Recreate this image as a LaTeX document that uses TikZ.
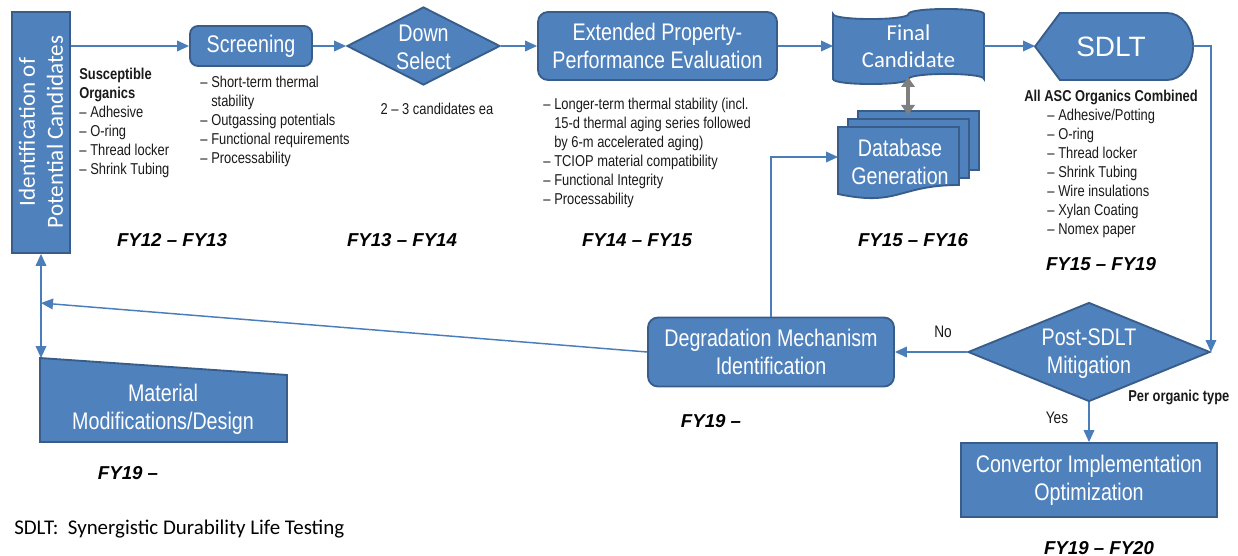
\documentclass[tikz,border=0pt]{standalone}
\usepackage{fontspec}
\setmainfont{Liberation Sans}
\newfontfamily\nar[FakeStretch=0.82]{Liberation Sans}
\newfontfamily\calf{Carlito}
\usetikzlibrary{shapes.geometric,arrows.meta}
\definecolor{boxfill}{HTML}{4F81BD}
\definecolor{boxline}{HTML}{385D8A}
\definecolor{arrline}{HTML}{4A7EBB}
\definecolor{gry}{HTML}{7F7F7F}
\definecolor{txt}{HTML}{1A1A1A}
\newcommand\lidash{\makebox[8.25pt][l]{–}}
\newcommand\liind{\hspace*{8.25pt}}
\tikzset{
  shp/.style={draw=boxline, fill=boxfill, line width=1.4pt},
  lbl/.style={text=white, font=\nar\fontsize{18}{21}\selectfont, align=center, inner sep=0pt},
  plain/.style={inner sep=0pt, outer sep=0pt},
  body/.style={text=txt, font=\nar\fontsize{11.8}{14.25}\selectfont, align=left, inner sep=0pt, anchor=north west},
  bodyb/.style={text=txt, font=\nar\bfseries\fontsize{11.8}{14.25}\selectfont, inner sep=0pt},
  fy/.style={text=black, font=\bfseries\itshape\fontsize{14}{16}\selectfont, inner sep=0pt},
  arr/.style={draw=arrline, line width=1.1pt, -{Triangle[length=9pt,width=8pt]}},
  darr/.style={draw=arrline, line width=1.1pt, {Triangle[length=9pt,width=8pt]}-{Triangle[length=9pt,width=8pt]}},
  garr/.style={draw=gry, line width=2.6pt, {Triangle[length=7.5pt,width=10pt]}-{Triangle[length=7.5pt,width=10pt]}},
}
\begin{document}
\begin{tikzpicture}[x=0.75pt,y=-0.75pt]
\useasboundingbox (0,0) rectangle (1238,556);

% ---------- shapes ----------
\node[shp, plain, outer sep=0.7pt, minimum width=43.5pt, minimum height=180.75pt] (id) at (41,132.5) {};
\node[text=white, font=\calf\fontsize{17.3}{21}\selectfont, align=center, rotate=90, inner sep=0pt] (idt) at (41,132) {Identification of\\Potential Candidates};

\node[shp, lbl, rounded corners=6pt, minimum width=91.5pt, minimum height=30pt] (scr) at (251,46) {Screening};

\node[shp, diamond, inner sep=0pt, minimum width=114.75pt, minimum height=58.5pt] (down) at (423.5,46) {};
\node[lbl] (downt) at (423.5,47.5) {Down\\Select};

\node[shp, lbl, rounded corners=7.5pt, minimum width=179.25pt, minimum height=51pt] (ext) at (657.5,46) {Extended Property-\\Performance Evaluation};

% final candidate (punched tape)
\filldraw[shp] (833,14) .. controls (833,20.7) and (908.5,20.7) .. (908.5,14)
  .. controls (908.5,7.3) and (984,7.3) .. (984,14) -- (984,79)
  .. controls (984,72.3) and (908.5,72.3) .. (908.5,79)
  .. controls (908.5,85.7) and (833,85.7) .. (833,79) -- cycle;
\node[plain, text=white, font=\calf\fontsize{17}{20}\selectfont, align=center, minimum width=113.25pt, minimum height=57pt] (fc) at (908.5,46) {Final\\Candidate};

% SDLT (display shape)
\filldraw[shp] (1035,46.5) -- (1060,13) -- (1167,13) .. controls (1181.4,13) and (1193,27.5) .. (1193,46.5)
  .. controls (1193,65.5) and (1181.4,80) .. (1167,80) -- (1060,80) -- cycle;
\node[plain, text=white, font=\fontsize{21}{24}\selectfont, minimum width=118.5pt, minimum height=50.25pt] (sdlt) at (1114,46) {};
\node[text=white, font=\fontsize{21}{24}\selectfont, inner sep=0pt] (sdltt) at (1111,46.5) {SDLT};

% database (multi-document)
\filldraw[shp] (858,111) rectangle (979,170);
\filldraw[shp] (848,119) rectangle (969,178);
\filldraw[shp] (838,127) -- (959,127) -- (959,185) .. controls (898.5,185) and (898.5,207) .. (838,194) -- cycle;
\node[plain, minimum width=90.75pt, minimum height=45pt] (db1) at (898.5,157) {};
\node[lbl] (dbt) at (900,161.5) {Database\\Generation};
\coordinate (dbtop) at (908,115);
\coordinate (fcbot) at (908,77);

% lower row
\node[shp, lbl, rounded corners=7.5pt, minimum width=184.5pt, minimum height=51.75pt] (deg) at (771,352) {Degradation Mechanism\\Identification};
\node[shp, diamond, inner sep=0pt, minimum width=181.5pt, minimum height=74.25pt] (post) at (1089,352) {};
\node[lbl] (postt) at (1089,353.5) {Post-SDLT\\Mitigation};
\node[shp, lbl, minimum width=192pt, minimum height=55.5pt] (conv) at (1089,480) {Convertor Implementation\\Optimization};

\filldraw[shp] (40,358) -- (287,375) -- (287,442) -- (40,442) -- cycle;
\node[lbl] (matt) at (163,409) {Material\\Modifications/Design};
\coordinate (mattop) at (41,358);
\coordinate (j) at (41,303);

% ---------- connectors ----------
\draw[arr] (scr.west -| id.east) -- (scr.west);
\draw[arr] (scr.east) -- (down.west);
\draw[arr] (down.east) -- (ext.west);
\draw[arr] (ext.east) -- (fc.west);
\draw[arr] (fc.east) -- (sdlt.west);
\draw[garr] (fcbot) -- (dbtop);
\draw[arr] (sdlt.east) -| (post.east);
\draw[arr] (post.west) -- (deg.east);
\draw[arr] (post.south) -- (conv.north);
\draw[arr] (deg.north) |- (db1.west);
\draw[arr] (deg.west) -- (j);
\draw[darr] (id.south) -- (mattop);

% ---------- texts ----------
\node[body] (susc) at (79,68) {\textbf{Susceptible}\\\textbf{Organics}\\\lidash Adhesive\\\lidash O-ring\\\lidash Thread locker\\\lidash Shrink Tubing};
\node[body] (scrl) at (200,76) {\lidash Short-term thermal\\\liind stability\\\lidash Outgassing potentials\\\lidash Functional requirements\\\lidash Processability};
\node[text=txt, font=\nar\fontsize{11.8}{14.25}\selectfont, inner sep=0pt] (cand) at (437,109) {2 – 3 candidates ea};
\node[body] (extl) at (543,98) {\lidash Longer-term thermal stability (incl.\\\liind 15-d thermal aging series followed\\\liind by 6-m accelerated aging)\\\lidash TCIOP material compatibility\\\lidash Functional Integrity\\\lidash Processability};
\node[bodyb] (allasc) at (1111,97) {All ASC Organics Combined};
\node[body] (sdltl) at (1047,109) {\lidash Adhesive/Potting\\\lidash O-ring\\\lidash Thread locker\\\lidash Shrink Tubing\\\lidash Wire insulations\\\lidash Xylan Coating\\\lidash Nomex paper};

\node[text=txt, font=\nar\fontsize{12.5}{14}\selectfont, inner sep=0pt] (no) at (943,332) {No};
\node[text=txt, font=\nar\fontsize{12.5}{14}\selectfont, inner sep=0pt] (yes) at (1057,418) {Yes};
\node[bodyb, anchor=west] (per) at (1128,397) {Per organic type};

\node[fy] (fy1) at (172,240) {FY12 – FY13};
\node[fy] (fy2) at (402,240) {FY13 – FY14};
\node[fy] (fy3) at (637,240) {FY14 – FY15};
\node[fy] (fy4) at (913,240) {FY15 – FY16};
\node[fy] (fy5) at (1101,264) {FY15 – FY19};
\node[fy] (fy6) at (711,421) {FY19 –};
\node[fy] (fy7) at (128,473) {FY19 –};
\node[fy] (fy8) at (1099,548) {FY19 – FY20};

\node[anchor=west, font=\calf\fontsize{15.7}{18}\selectfont, text=black, inner sep=0pt] (fn) at (14,529) {SDLT:\ \ Synergistic Durability Life Testing};
\end{tikzpicture}
\end{document}
